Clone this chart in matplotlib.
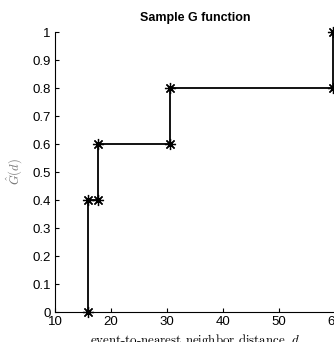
import numpy as np
import matplotlib
matplotlib.use("Agg")
from matplotlib import pyplot as plt

# event-to-nearest neighbor distances (sorted), one per event
dist = [15.9, 15.9, 17.6, 30.5, 59.6]
xticks = [10, 20, 30, 40, 50, 60]
yticks = [0, 0.1, 0.2, 0.3, 0.4, 0.5, 0.6, 0.7, 0.8, 0.9, 1]

# build the empirical G step curve
d = np.unique(dist)
g = np.array([np.mean(np.array(dist) <= v) for v in d])
xs = [d[0]]
ys = [0.0]
for i in range(len(d)):
    if i > 0:
        xs.append(d[i])
        ys.append(g[i - 1])
    xs.append(d[i])
    ys.append(g[i])

plt.rcParams['font.family'] = ['Liberation Sans', 'DejaVu Sans']
plt.rcParams['mathtext.fontset'] = 'cm'

fig = plt.figure(figsize=(3.34, 3.42), dpi=100)
ax = fig.add_axes([0.1647, 0.0877, 0.838, 0.8187])
ax.plot(xs, ys, color='black', lw=1.3, marker=(8, 2, 0), ms=8, mew=0.9, clip_on=False)

ax.set_xlim(10, 60)
ax.set_ylim(0, 1)
ax.set_xticks(xticks)
ax.set_yticks(yticks)
ax.set_yticklabels([f"{v:g}" for v in yticks])
ax.tick_params(direction='in', length=3, labelsize=9.5, width=0.8, pad=3)
ax.spines['top'].set_visible(False)
ax.spines['right'].set_visible(False)
for s in ['left', 'bottom']:
    ax.spines[s].set_linewidth(0.8)

ax.set_title("Sample G function", fontsize=9, fontweight='bold', pad=8)
ax.set_ylabel(r"$\hat{G}(d)$", color='#777777', fontsize=9, labelpad=5)
ax.set_xlabel("event-to-nearest neighbor distance, $d$", family='cmr10', fontsize=9.3, labelpad=2.5)

fig.savefig("out.png", dpi=100)
